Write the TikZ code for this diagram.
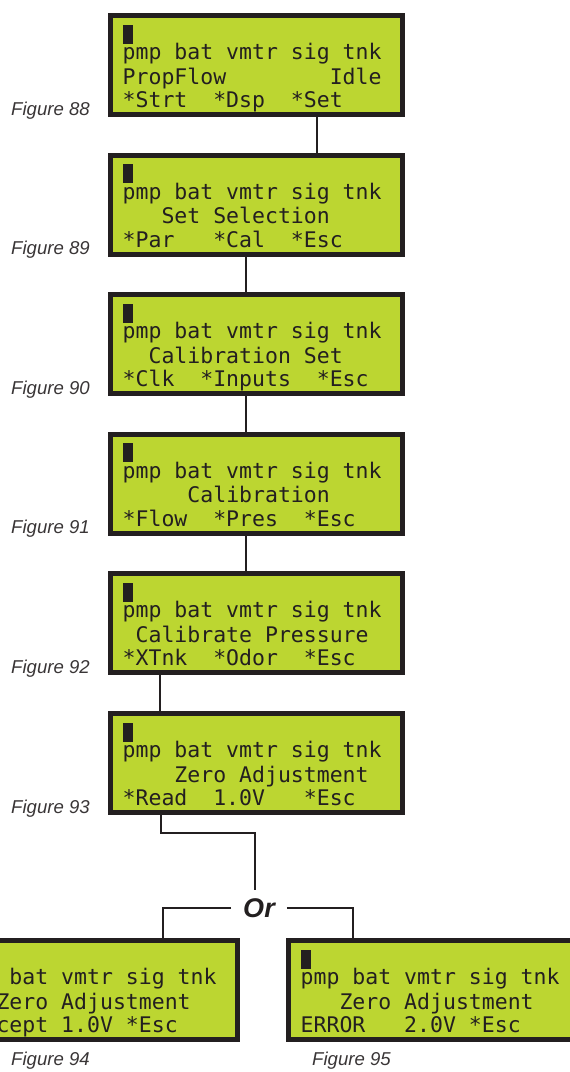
\documentclass[tikz,border=0pt]{standalone}
\usepackage{fontspec}
\setmainfont{Liberation Sans}
\newfontfamily\lcdfont{DejaVu Sans Mono}
\usetikzlibrary{calc}
\definecolor{lcdgreen}{RGB}{188,214,49}
\definecolor{ink}{RGB}{35,31,32}
\tikzset{
  lcd/.style={draw=ink, fill=lcdgreen, line width=5pt, minimum width=292pt,
    minimum height=99pt, inner sep=0pt, anchor=north west},
  lcdtxt/.style={font=\lcdfont\fontsize{21.5}{24}\selectfont, text=ink,
    anchor=base west, inner sep=0pt},
  conn/.style={draw=ink, line width=2.4pt},
  figlbl/.style={font=\itshape\fontsize{18.6}{20}\selectfont, text=ink!90,
    anchor=base west, inner sep=0pt},
  ortxt/.style={font=\bfseries\itshape\fontsize{27}{30}\selectfont, text=ink,
    inner xsep=12pt, inner ysep=0pt},
}
\newcommand{\lcdbox}[5]{%
  \node[lcd] (#1) at (#2,#3) {};
  \fill[ink] ($(#1.north west)+(15,11.5)$) rectangle ++(10,19);
  \node[lcdtxt] (#1r2) at ($(#1.north west)+(14.5,46.5)$) {pmp~bat~vmtr~sig~tnk};
  \node[lcdtxt] (#1r3) at ($(#1.north west)+(14.5,71)$) {#4};
  \node[lcdtxt] (#1r4) at ($(#1.north west)+(14.5,94.5)$) {#5};
}
\begin{document}
\begin{tikzpicture}[x=1pt,y=-1pt]
  \useasboundingbox (0,0) rectangle (570,1072);
  \clip (0,0) rectangle (570,1072);

  \lcdbox{b88}{108}{13}{PropFlow~~~~~~~~Idle}{*Strt~~*Dsp~~*Set}
  \lcdbox{b89}{108}{152.6}{~~~Set~Selection}{*Par~~~*Cal~~*Esc}
  \lcdbox{b90}{108}{292.2}{~~Calibration~Set}{*Clk~~*Inputs~~*Esc}
  \lcdbox{b91}{108}{431.8}{~~~~~Calibration}{*Flow~~*Pres~~*Esc}
  \lcdbox{b92}{108}{571.4}{~Calibrate~Pressure}{*XTnk~~*Odor~~*Esc}
  \lcdbox{b93}{108}{711}{~~~~Zero~Adjustment}{*Read~~1.0V~~~*Esc}
  \lcdbox{b94}{-57}{938}{~~~Zero~Adjustment}{*Accept~1.0V~*Esc}
  \lcdbox{b95}{286}{938}{~~~Zero~Adjustment}{ERROR~~~2.0V~*Esc}

  % labels
  \node[figlbl] (f88) at (11,115) {Figure 88};
  \node[figlbl] (f89) at (11,254.6) {Figure 89};
  \node[figlbl] (f90) at (11,394.2) {Figure 90};
  \node[figlbl] (f91) at (11,533.8) {Figure 91};
  \node[figlbl] (f92) at (11,673.4) {Figure 92};
  \node[figlbl] (f93) at (11,813) {Figure 93};
  \node[figlbl] (f94) at (11,1065) {Figure 94};
  \node[figlbl] (f95) at (312,1065) {Figure 95};

  % connectors
  \draw[conn] ($(b88.south west)+(209,0)$) -- ($(b89.north west)+(209,0)$);
  \draw[conn] ($(b89.south west)+(138,0)$) -- ($(b90.north west)+(138,0)$);
  \draw[conn] ($(b90.south west)+(138,0)$) -- ($(b91.north west)+(138,0)$);
  \draw[conn] ($(b91.south west)+(138,0)$) -- ($(b92.north west)+(138,0)$);
  \draw[conn] ($(b92.south west)+(52,0)$) -- ($(b93.north west)+(52,0)$);

  \node[ortxt] (or) at (259,908) {Or};
  \coordinate (j1) at (255,833);
  \coordinate (j2) at (255,890);
  \draw[conn] ($(b93.south west)+(53,0)$) |- (j1) -- (j2);
  \draw[conn] (or.west) -| ($(b94.north west)+(220,0)$);
  \draw[conn] (or.east) -| ($(b95.north west)+(67,0)$);
\end{tikzpicture}
\end{document}
